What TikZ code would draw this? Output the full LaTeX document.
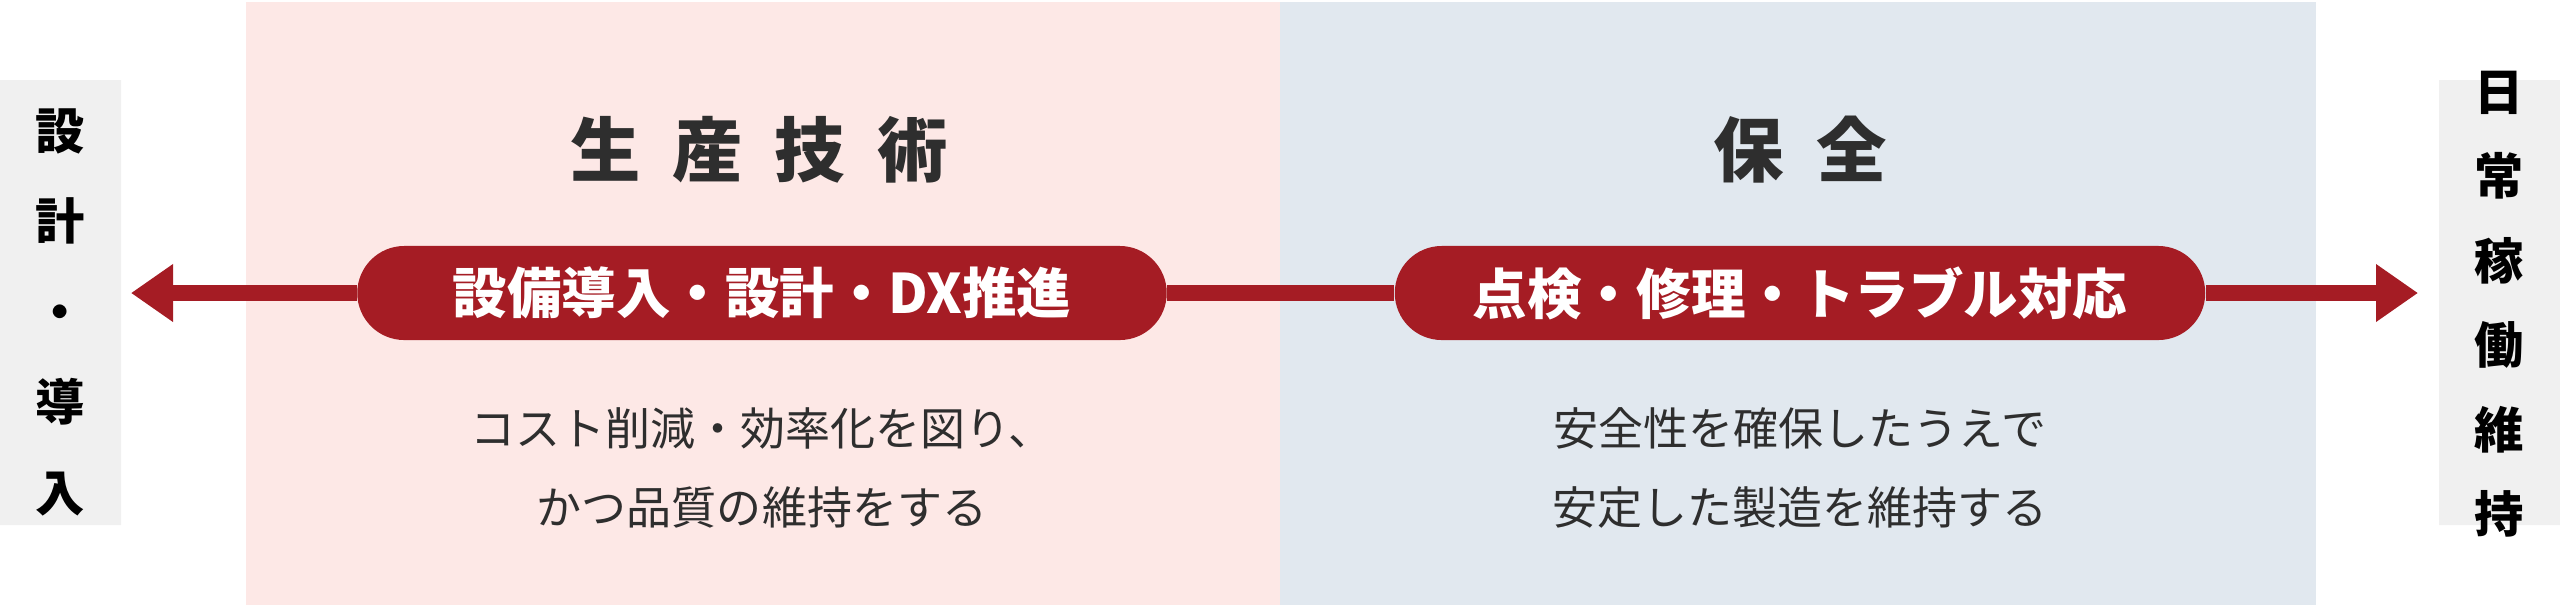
\documentclass[tikz,border=0pt]{standalone}
\usepackage{fontspec}
\setmainfont{Noto Sans CJK JP}
\newfontfamily\cjkb{Noto Sans CJK JP}[BoldFont={* Bold}]
\usetikzlibrary{arrows.meta}
\definecolor{pinkbg}{HTML}{FDE8E6}
\definecolor{bluebg}{HTML}{E1E8EF}
\definecolor{graybg}{HTML}{F0F0F0}
\definecolor{wine}{HTML}{A51C24}
\definecolor{ink}{HTML}{2E2E2E}
\begin{document}
\begin{tikzpicture}[x=0.01cm,y=-0.01cm,
  pill/.style={fill=wine,rounded corners=47\pgflinewidth*0+0.47cm,minimum height=0.94cm,text=white,font=\fontsize{15.5}{18}\selectfont\bfseries,inner sep=0pt},
  ttl/.style={text=ink,font=\fontsize{20}{24}\selectfont\bfseries},
  body/.style={text=ink,font=\fontsize{12.8}{22.5}\selectfont,align=center},
  side/.style={text=black,font=\fontsize{14}{17.2}\selectfont\bfseries,align=center},
  conn/.style={draw=wine,line width=4.5pt}]
\useasboundingbox (0,0) rectangle (2560,605);
\fill[pinkbg] (246,2) rectangle (1280,605);
\fill[bluebg] (1280,2) rectangle (2316,605);
\fill[graybg] (0,80) rectangle (121,525) (2439,80) rectangle (2560,525);
\node[side] (L) at (60,312) {設\\[0.3cm]計\\[0.3cm]・\\[0.3cm]導\\[0.3cm]入};
\node[side] (R) at (2499,304) {日\\[0.24cm]常\\[0.24cm]稼\\[0.24cm]働\\[0.24cm]維\\[0.24cm]持};
\node[ttl] (t1) at (759,150) {生\hspace{0.32cm}産\hspace{0.32cm}技\hspace{0.32cm}術};
\node[ttl] (t2) at (1800,150) {保\hspace{0.32cm}全};
\node[pill,minimum width=809\pgflinewidth*0+8.09cm] (p1) at (762,293) {設備導入・設計・DX推進};
\node[pill,minimum width=8.1cm] (p2) at (1800,293) {点検・修理・トラブル対応};
\coordinate (la) at (131,293);
\coordinate (ra) at (2418,293);
\draw[conn] (p1) -- (p2);
\draw[conn,-{Triangle[length=0.42cm,width=0.55cm]}] (p1) -- (la);
\draw[conn,-{Triangle[length=0.42cm,width=0.55cm]}] (p2) -- (ra);
\node[body] (b1) at (762,468) {コスト削減・効率化を図り、\\かつ品質の維持をする};
\node[body] (b2) at (1800,468) {安全性を確保したうえで\\安定した製造を維持する};
\end{tikzpicture}
\end{document}
